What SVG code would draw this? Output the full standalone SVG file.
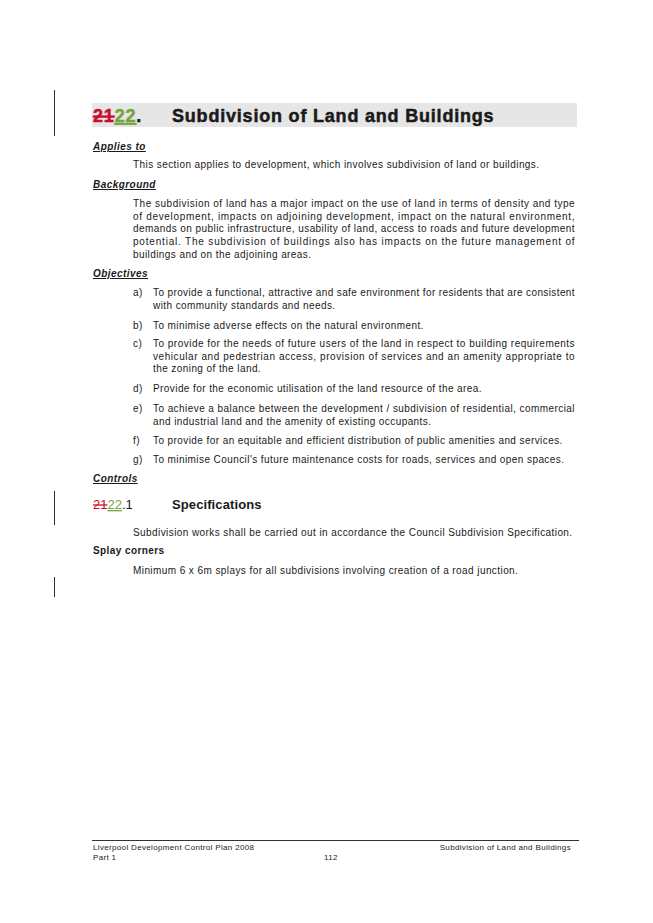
<svg xmlns="http://www.w3.org/2000/svg" width="653" height="923" viewBox="0 0 653 923">
<style>
text{font-family:"Liberation Sans",Arial,sans-serif;fill:#1a1a1a}
.b{font-size:10px;letter-spacing:0.42px}
.h{font-size:10px;font-weight:bold;font-style:italic;text-decoration:underline;letter-spacing:0.45px}
.f{font-size:8px;letter-spacing:0.34px}
.t{font-size:18px;font-weight:bold;letter-spacing:0.8px;stroke:#1a1a1a;stroke-width:0.5}
.del{fill:#c8102e;stroke:#c8102e;text-decoration:line-through}
.ins{fill:#76a340;stroke:#76a340;text-decoration:underline}
</style>
<rect width="653" height="923" fill="#fff"/>
<g id="changebars" stroke="#333" stroke-width="1">
<line x1="54.5" y1="90" x2="54.5" y2="136"/>
<line x1="54.5" y1="491" x2="54.5" y2="525"/>
<line x1="54.5" y1="577" x2="54.5" y2="597"/>
</g>
<g id="title">
<rect x="92" y="103" width="485" height="24" fill="#e6e6e6"/>
<text class="t" x="93" y="122"><tspan class="del">21</tspan><tspan class="ins">22</tspan><tspan>.</tspan></text>
<text class="t" x="172" y="122">Subdivision of Land and Buildings</text>
</g>
<g id="body">
<text class="h" x="93" y="150">Applies to</text>
<text class="b" x="133" y="168">This section applies to development, which involves subdivision of land or buildings.</text>
<text class="h" x="93" y="188">Background</text>
<text class="b" x="133" y="207" textLength="442" lengthAdjust="spacing">The subdivision of land has a major impact on the use of land in terms of density and type</text>
<text class="b" x="133" y="219.7" textLength="442" lengthAdjust="spacing">of development, impacts on adjoining development, impact on the natural environment,</text>
<text class="b" x="133" y="232.4" textLength="442" lengthAdjust="spacing">demands on public infrastructure, usability of land, access to roads and future development</text>
<text class="b" x="133" y="245.1" textLength="442" lengthAdjust="spacing">potential.  The subdivision of buildings also has impacts on the future management of</text>
<text class="b" x="133" y="257.8">buildings and on the adjoining areas.</text>
<text class="h" x="93" y="277">Objectives</text>
<text class="b" x="133" y="296">a)</text>
<text class="b" x="153" y="296" textLength="422" lengthAdjust="spacing">To provide a functional, attractive and safe environment for residents that are consistent</text>
<text class="b" x="153" y="308.5">with community standards and needs.</text>
<text class="b" x="133" y="329">b)</text>
<text class="b" x="153" y="329">To minimise adverse effects on the natural environment.</text>
<text class="b" x="133" y="347">c)</text>
<text class="b" x="153" y="347" textLength="422" lengthAdjust="spacing">To provide for the needs of future users of the land in respect to building requirements</text>
<text class="b" x="153" y="359.7" textLength="422" lengthAdjust="spacing">vehicular and pedestrian access, provision of services and an amenity appropriate to</text>
<text class="b" x="153" y="372.4">the zoning of the land.</text>
<text class="b" x="133" y="392">d)</text>
<text class="b" x="153" y="392">Provide for the economic utilisation of the land resource of the area.</text>
<text class="b" x="133" y="412">e)</text>
<text class="b" x="153" y="412" textLength="422" lengthAdjust="spacing">To achieve a balance between the development / subdivision of residential, commercial</text>
<text class="b" x="153" y="424.7">and industrial land and the amenity of existing occupants.</text>
<text class="b" x="133" y="444">f)</text>
<text class="b" x="153" y="444">To provide for an equitable and efficient distribution of public amenities and services.</text>
<text class="b" x="133" y="463">g)</text>
<text class="b" x="153" y="463">To minimise Council's future maintenance costs for roads, services and open spaces.</text>
<text class="h" x="93" y="482">Controls</text>
<text x="93" y="509" font-size="13"><tspan class="del" style="stroke:none">21</tspan><tspan class="ins" style="stroke:none">22</tspan><tspan>.1</tspan></text>
<text x="172" y="509" font-size="13" font-weight="bold" letter-spacing="0.1">Specifications</text>
<text class="b" x="93" y="554" font-weight="bold">Splay corners</text>
<text class="b" x="133" y="536">Subdivision works shall be carried out in accordance the Council Subdivision Specification.</text>
<text class="b" x="133" y="574">Minimum 6 x 6m splays for all subdivisions involving creation of a road junction.</text>
</g>
<g id="footer">
<line x1="92" y1="840.5" x2="579" y2="840.5" stroke="#333" stroke-width="1"/>
<text class="f" x="93" y="850">Liverpool Development Control Plan 2008</text>
<text class="f" x="571" y="850" text-anchor="end">Subdivision of Land and Buildings</text>
<text class="f" x="93" y="860">Part 1</text>
<text class="f" x="324" y="860">112</text>
</g>
</svg>
